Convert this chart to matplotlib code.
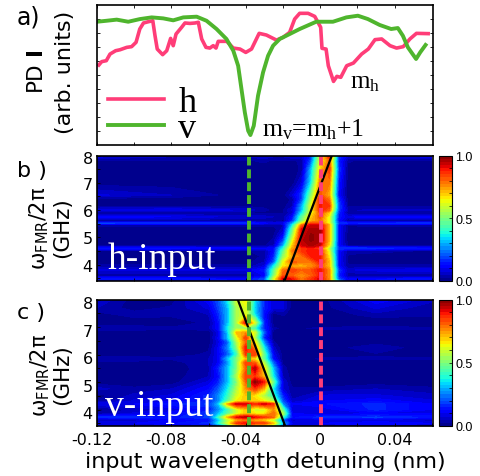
#!/usr/bin/env python3
"""Three-panel figure: PD trace for h/v input and two FMR sideband maps."""
import numpy as np
import matplotlib
matplotlib.use('Agg')
import matplotlib.pyplot as plt
from matplotlib.transforms import ScaledTranslation

W, H = 480, 477

# panel a) traces (detuning in nm, PD signal in tick units)
h_x = [-0.119, -0.1175, -0.115, -0.113, -0.110, -0.1076, -0.104, -0.1014, -0.099, -0.097, -0.095,
       -0.0924, -0.090, -0.0888, -0.0876, -0.0847, -0.0825, -0.0804, -0.079, -0.0775, -0.0745,
       -0.0727, -0.070, -0.0673, -0.0655, -0.0637, -0.0614, -0.0593, -0.0575, -0.056, -0.0548,
       -0.0502, -0.0467, -0.0431, -0.04, -0.0369, -0.0328, -0.0289, -0.0235, -0.02, -0.0164,
       -0.0137, -0.011, -0.0065, -0.0029, 0.0003, 0.001, 0.0032, 0.0044, 0.0072, 0.009, 0.0111,
       0.0143, 0.0179, 0.0223, 0.0259, 0.0295, 0.0331, 0.0376, 0.0411, 0.0447, 0.0483, 0.0518, 0.0581]
h_y = [4.74, 4.98, 5.05, 5.52, 5.76, 5.83, 6.0, 6.05, 6.36, 7.31, 7.74,
       7.83, 7.90, 6.83, 5.88, 5.48, 5.76, 6.64, 6.12, 6.95, 7.43,
       7.74, 7.71, 7.74, 7.79, 6.6, 6.0, 5.95, 6.12, 5.95, 6.43,
       6.43, 5.95, 5.88, 5.64, 5.88, 7.0, 6.88, 6.52, 6.71, 7.07,
       8.02, 8.43, 8.43, 8.21, 7.43, 5.93, 5.88, 4.69, 3.57, 3.93, 3.86,
       4.69, 4.88, 5.52, 5.88, 6.55, 6.6, 6.12, 5.95, 6.05, 6.6, 7.0, 6.98]
v_x = [-0.12, -0.1148, -0.1094, -0.1032, -0.0969, -0.0906, -0.0844, -0.079, -0.0736, -0.0664,
       -0.0611, -0.0557, -0.0504, -0.0467, -0.0441, -0.0423, -0.0405, -0.0387, -0.0375, -0.0357,
       -0.0334, -0.0307, -0.028, -0.0253, -0.0217, -0.0164, -0.011, -0.0021, 0.0069, 0.0141,
       0.0203, 0.0257, 0.032, 0.0382, 0.0418, 0.0445, 0.0472, 0.0516, 0.0538, 0.0567]
v_y = [7.83, 7.9, 7.98, 7.83, 8.02, 8.14, 8.07, 7.93, 8.14, 8.19,
       7.9, 7.31, 6.6, 5.76, 4.69, 3.02, 1.36, 0.05, -0.26, 0.4,
       2.55, 4.21, 5.4, 6.12, 6.6, 6.95, 7.31, 7.83, 7.83, 8.14,
       8.26, 8.02, 7.6, 7.31, 7.38, 6.83, 6.0, 5.17, 5.64, 6.17]

# panel b) map, h input
b_x = [-0.12, -0.08, -0.04, -0.03, -0.025, -0.02, -0.015, -0.01, -0.005, 0, 0.005, 0.01, 0.015, 0.02, 0.06]
b_f = [3.4, 3.47, 3.6, 3.8, 3.95, 4.1, 4.3, 4.5, 4.6, 4.7, 4.9, 5.1, 5.3, 5.45, 5.52, 5.6, 5.75,
       5.9, 6.0, 6.15, 6.4, 6.55, 7.0, 7.5, 7.8, 8.0]
b_map = [
    [.10, .10, .08, .10, .30, .75, .75, .70, .70, .85, .75, .30, .08, .08, .08],
    [.14, .14, .12, .20, .60, .92, .90, .78, .85, .92, .75, .20, .10, .12, .14],
    [.03, .03, .03, .10, .50, .82, .80, .75, .80, .88, .75, .15, .03, .03, .03],
    [.08, .08, .08, .14, .45, .78, .85, .80, .82, .90, .75, .18, .06, .08, .10],
    [.03, .03, .03, .08, .35, .65, .72, .70, .75, .82, .70, .12, .03, .03, .03],
    [.01, .01, .01, .05, .20, .62, .82, .78, .78, .88, .70, .12, .02, .01, .01],
    [.01, .01, .01, .03, .15, .52, .72, .78, .88, .88, .65, .12, .02, .01, .01],
    [.02, .02, .02, .04, .12, .45, .78, .85, .90, .88, .60, .12, .04, .04, .02],
    [.13, .13, .11, .10, .12, .38, .72, .85, .88, .82, .55, .17, .17, .17, .13],
    [.02, .02, .02, .02, .05, .28, .68, .92, .96, .92, .65, .12, .02, .02, .02],
    [.01, .01, .01, .01, .03, .18, .60, .94, .98, .96, .70, .12, .01, .01, .01],
    [.01, .01, .01, .01, .02, .10, .52, .92, .98, .96, .70, .12, .01, .01, .01],
    [.01, .01, .01, .01, .01, .06, .45, .90, .96, .96, .70, .12, .02, .01, .01],
    [.03, .03, .03, .03, .03, .05, .35, .78, .92, .92, .70, .12, .02, .03, .03],
    [.18, .16, .16, .11, .08, .10, .26, .62, .82, .82, .62, .17, .15, .15, .17],
    [.03, .03, .03, .03, .02, .02, .16, .50, .72, .78, .62, .12, .02, .02, .03],
    [.11, .10, .06, .06, .05, .04, .12, .45, .68, .82, .62, .14, .08, .11, .11],
    [.02, .02, .02, .02, .02, .02, .07, .35, .62, .82, .68, .16, .02, .02, .02],
    [.08, .10, .07, .03, .02, .02, .08, .30, .62, .88, .80, .18, .05, .05, .06],
    [.02, .02, .02, .02, .01, .01, .05, .28, .62, .88, .85, .20, .02, .02, .02],
    [.01, .01, .01, .01, .01, .01, .03, .18, .55, .88, .78, .16, .01, .01, .01],
    [.08, .05, .01, .01, .01, .01, .07, .18, .50, .82, .72, .12, .01, .01, .01],
    [.01, .01, .01, .01, .01, .01, .01, .08, .35, .78, .78, .14, .01, .01, .01],
    [.01, .01, .01, .01, .01, .01, .01, .03, .30, .68, .85, .18, .01, .01, .01],
    [.02, .02, .02, .03, .02, .02, .02, .03, .20, .62, .80, .15, .03, .02, .02],
    [.10, .06, .06, .08, .06, .06, .08, .08, .15, .62, .90, .18, .08, .08, .10],
]

# panel c) map, v input
c_x = [-0.12, -0.10, -0.08, -0.06, -0.055, -0.05, -0.045, -0.04, -0.035, -0.03, -0.025, -0.02, -0.015, 0, 0.03, 0.06]
c_f = [3.4, 3.5, 3.62, 3.72, 3.85, 4.0, 4.2, 4.3, 4.5, 4.75, 5.0, 5.2, 5.5, 5.7, 5.85, 6.0, 6.25,
       6.45, 6.6, 6.8, 6.95, 7.15, 7.45, 7.7, 8.0]
c_map = [
    [.08, .08, .08, .10, .20, .35, .60, .75, .65, .60, .50, .20, .08, .08, .10, .08],
    [.10, .10, .12, .16, .35, .60, .85, .90, .85, .85, .70, .30, .10, .10, .12, .10],
    [.03, .06, .10, .13, .30, .55, .70, .75, .70, .65, .55, .20, .06, .08, .08, .06],
    [.16, .16, .14, .18, .40, .70, .90, .95, .90, .85, .80, .40, .12, .16, .18, .14],
    [.03, .08, .12, .18, .30, .45, .60, .70, .65, .65, .80, .55, .10, .08, .10, .10],
    [.01, .06, .08, .13, .25, .40, .60, .70, .60, .60, .75, .45, .08, .08, .16, .10],
    [.10, .10, .14, .18, .30, .70, .92, .92, .85, .92, .85, .25, .10, .12, .16, .10],
    [.03, .08, .10, .16, .25, .45, .65, .70, .70, .65, .55, .20, .06, .10, .12, .08],
    [.01, .06, .08, .16, .25, .40, .60, .70, .65, .55, .40, .15, .03, .08, .08, .06],
    [.06, .03, .05, .12, .20, .35, .55, .75, .85, .70, .35, .08, .03, .03, .05, .03],
    [.01, .01, .01, .08, .15, .30, .50, .80, .98, .88, .45, .08, .01, .01, .01, .01],
    [.00, .01, .01, .05, .12, .30, .55, .85, .85, .70, .35, .05, .01, .01, .01, .01],
    [.00, .00, .01, .04, .15, .30, .50, .80, .95, .65, .30, .04, .00, .00, .00, .00],
    [.01, .01, .01, .05, .10, .25, .50, .85, .80, .55, .20, .02, .00, .01, .01, .01],
    [.05, .05, .03, .05, .10, .30, .50, .70, .65, .45, .12, .01, .00, .03, .03, .03],
    [.00, .00, .01, .03, .10, .20, .40, .85, .85, .45, .10, .01, .00, .00, .02, .00],
    [.00, .00, .01, .02, .10, .25, .50, .90, .75, .35, .06, .00, .00, .00, .05, .00],
    [.00, .00, .00, .01, .08, .20, .55, .80, .65, .25, .03, .00, .00, .00, .01, .00],
    [.01, .01, .01, .01, .10, .30, .60, .85, .55, .15, .01, .00, .00, .00, .00, .00],
    [.00, .00, .00, .01, .08, .30, .70, .75, .60, .20, .01, .00, .00, .00, .00, .00],
    [.05, .05, .03, .04, .12, .35, .55, .50, .40, .15, .03, .02, .02, .03, .04, .03],
    [.00, .00, .01, .03, .12, .30, .55, .90, .60, .15, .01, .00, .00, .00, .00, .00],
    [.01, .04, .03, .05, .15, .30, .55, .62, .35, .12, .01, .03, .01, .00, .04, .03],
    [.05, .01, .03, .08, .18, .30, .55, .62, .32, .15, .08, .08, .01, .01, .08, .03],
    [.08, .01, .01, .12, .20, .35, .60, .65, .35, .15, .08, .08, .01, .01, .12, .06],
]

# fit lines and marker wavelengths
b_fit_x = [-0.0192, 0.0063]
c_fit_x = [-0.0188, -0.0443]
fit_f = [3.4, 8.0]
mode_v = -0.038
mode_h = 0.0004
x_ticks = [-0.12, -0.08, -0.04, 0, 0.04]
x_labels = ['-0.12', '-0.08', '-0.04', '0', '0.04']

PINK = '#ff3d78'
GREEN = '#4fb52d'
SERIF = 'Liberation Serif'

plt.rcParams['mathtext.default'] = 'regular'
plt.rcParams['font.family'] = 'DejaVu Sans'


def box(left, top, right, bottom):
    """Axes rectangle from pixel edges, y counted from the top."""
    return [left / W, 1 - bottom / H, (right - left) / W, (bottom - top) / H]


def shift(lab, dx, dy):
    lab.set_transform(lab.get_transform() + ScaledTranslation(dx / 100, dy / 100, fig.dpi_scale_trans))


def draw_map(ax_box, cb_box, x, f, z, fit_x):
    ax = fig.add_axes(box(*ax_box))
    cf = ax.contourf(x, f, np.array(z), levels=np.linspace(0, 1, 41), cmap='jet')
    ax.plot(fit_x, fit_f, color='black', lw=1.6)
    ax.plot([mode_v, mode_v], fit_f, color=GREEN, lw=2.8, ls=(0, (2.3, 1.0)))
    ax.plot([mode_h, mode_h], fit_f, color=PINK, lw=2.8, ls=(0, (2.3, 1.0)))
    ax.set_xlim(-0.12, 0.0607)
    ax.set_ylim(3.4, 8)
    ax.set_yticks([4, 5, 6, 7, 8])
    ax.set_yticks([3.5, 4.5, 5.5, 6.5, 7.5], minor=True)
    ax.set_xticks(x_ticks, x_labels)
    ax.set_xticks([-0.1, -0.06, -0.02, 0.02, 0.06], minor=True)
    ax.tick_params(which='both', direction='in', length=2.5, width=0.6, labelsize=11.5, pad=3)
    for sp in ax.spines.values():
        sp.set_linewidth(1.2)
    cax = fig.add_axes(box(*cb_box))
    cb = fig.colorbar(cf, cax=cax, ticks=[0, 0.5, 1])
    cb.ax.set_yticklabels(['0.0', '0.5', '1.0'], fontfamily='Liberation Sans', fontsize=9)
    cb.ax.set_yticks(np.arange(0, 1.01, 0.1), minor=True)
    cb.ax.tick_params(which='both', direction='in', length=2, width=0.5, pad=2)
    cb.outline.set_linewidth(0.8)
    return ax


fig = plt.figure(figsize=(W / 100, H / 100), dpi=100)

# a) traces
ax_a = fig.add_axes(box(97, 5.5, 433, 146))
ax_a.plot(h_x, h_y, color=PINK, lw=2.6, label='h')
ax_a.plot(v_x, v_y, color=GREEN, lw=2.8, label='v')
ax_a.set_xlim(-0.12, 0.0607)
ax_a.set_ylim(-0.97, 9.06)
ax_a.set_yticks(range(9))
ax_a.set_xticks(np.arange(-0.12, 0.06, 0.02))
ax_a.tick_params(which='both', direction='in', length=2.5, width=0.6, top=True, right=True,
                 labelleft=False, labelbottom=False)
for sp in ax_a.spines.values():
    sp.set_linewidth(1.2)
ax_a.legend(loc='lower left', bbox_to_anchor=(-0.075, -0.26), frameon=False,
            prop={'family': SERIF, 'size': 26}, handlelength=1.55, handletextpad=0.4,
            labelspacing=-0.2, borderaxespad=0.6)
ax_a.text(0.016, 3.5, r'm$_{h}$', family=SERIF, fontsize=18, ha='left', va='center')
ax_a.text(-0.0312, 0.2, r'm$_{v}$=m$_{h}$+1', family=SERIF, fontsize=18.5, ha='left', va='center')

# b) and c) maps
ax_b = draw_map((97, 156.5, 433, 282), (439, 156.5, 452.5, 282), b_x, b_f, b_map, b_fit_x)
ax_b.tick_params(which='both', labelbottom=False)
ax_b.text(-0.1145, 4.2, 'h-input', family=SERIF, color='white', fontsize=27, ha='left', va='center')
ax_c = draw_map((97, 300.5, 433, 427), (439, 300.5, 452.5, 427), c_x, c_f, c_map, c_fit_x)
ax_c.text(-0.1155, 4.13, 'v-input', family=SERIF, color='white', fontsize=27, ha='left', va='center')

# tick labels sit a little off their ticks in the original
fig.canvas.draw()
for lab in ax_c.get_yticklabels():
    shift(lab, 0, -3)
shift(ax_b.get_yticklabels()[-1], 0, -2)
for lab in ax_c.get_xticklabels()[:3]:
    shift(lab, -5, 0)
for lab in ax_c.get_xticklabels():
    shift(lab, 0, -2)

ax_c.set_xlabel('input wavelength detuning (nm)', fontsize=16, labelpad=3)

# panel letters and stacked y labels
fig.text(17 / W, 1 - 17 / H, 'a)', fontsize=17, ha='left', va='center')
fig.text(17 / W, 1 - 171 / H, 'b )', fontsize=16, ha='left', va='center')
fig.text(17 / W, 1 - 313 / H, 'c )', fontsize=16, ha='left', va='center')
fig.text(37 / W, 1 - 72 / H, r'PD $\mathbf{I}$', fontsize=15.5, rotation=90, ha='center', va='center')
fig.text(65 / W, 1 - 72 / H, '(arb. units)', fontsize=16, rotation=90, ha='center', va='center')
fig.text(39 / W, 1 - 228 / H, r'$\omega_{FMR}/2\pi$', fontsize=15, rotation=90, ha='center', va='center')
fig.text(62 / W, 1 - 228 / H, '(GHz)', fontsize=15.5, rotation=90, ha='center', va='center')
fig.text(40 / W, 1 - 375 / H, r'$\omega_{FMR}/2\pi$', fontsize=15, rotation=90, ha='center', va='center')
fig.text(62 / W, 1 - 375 / H, '(GHz)', fontsize=15.5, rotation=90, ha='center', va='center')

fig.savefig('out.png', dpi=100)
